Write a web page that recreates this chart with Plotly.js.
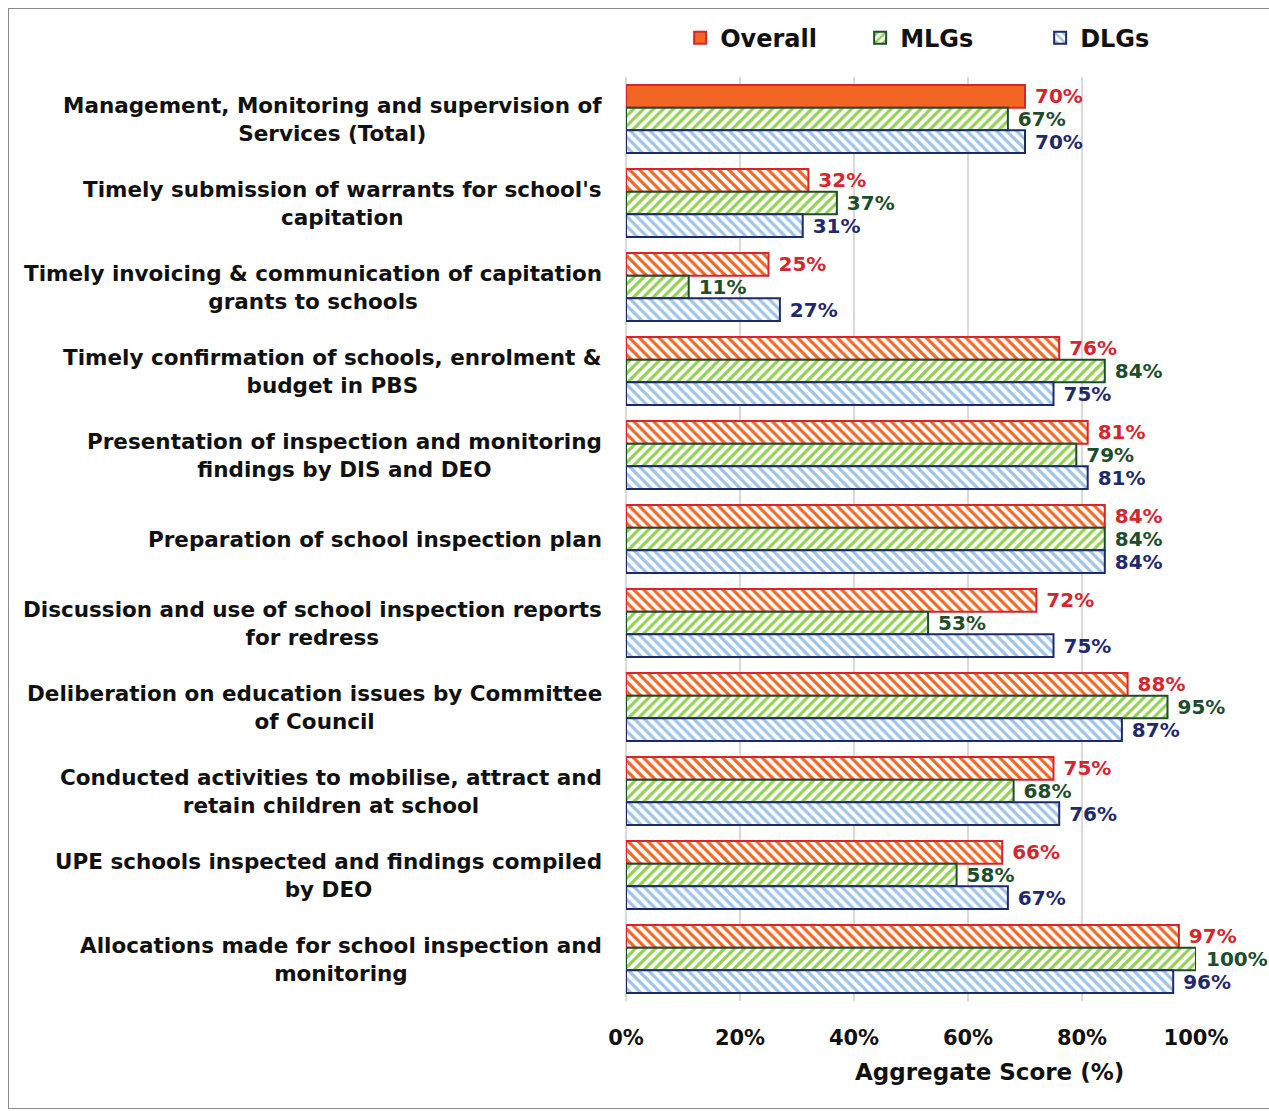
<!DOCTYPE html>
<html>
<head>
<meta charset="utf-8">
<script src="https://cdn.plot.ly/plotly-3.0.1.min.js"></script>
<style>
  html, body { margin: 0; padding: 0; background: #fff; overflow: hidden; }
  #chart { width: 1269px; height: 1111px; }
  #frame { position: absolute; left: 8px; top: 8px; width: 1300px; height: 1099px; border: 1.5px solid #8c8c8c; pointer-events: none; }
</style>
</head>
<body>
<div id="chart"></div>
<div id="frame"></div>
<script>
const categories = [
  "Management, Monitoring and supervision of<br>Services (Total)",
  "Timely submission of warrants for school's<br>capitation",
  "Timely invoicing & communication of capitation<br>grants to schools",
  "Timely confirmation of schools, enrolment &<br>budget in PBS",
  "Presentation of inspection and monitoring<br>findings by DIS and DEO",
  "Preparation of school inspection plan",
  "Discussion and use of school inspection reports<br>for redress",
  "Deliberation on education issues by Committee<br>of Council",
  "Conducted activities to mobilise, attract and<br>retain children at school",
  "UPE schools inspected and findings compiled<br>by DEO",
  "Allocations made for school inspection and<br>monitoring"
];
const overall = [70, 32, 25, 76, 81, 84, 72, 88, 75, 66, 97];
const mlgs    = [67, 37, 11, 84, 79, 84, 53, 95, 68, 58, 100];
const dlgs    = [70, 31, 27, 75, 81, 84, 75, 87, 76, 67, 96];
const seriesNames = ["Overall", "MLGs", "DLGs"];
const tickVals = [0, 20, 40, 60, 80, 100];
const tickText = ["0%", "20%", "40%", "60%", "80%", "100%"];
const xTitle = "Aggregate Score (%)";

const FONT = "DejaVu Sans, Liberation Sans, sans-serif";

function mkTrace(name, vals, fg, line, txt, shapes) {
  return {
    type: "bar", orientation: "h", name: name,
    x: vals, y: categories,
    text: vals.map(v => "\u00a0" + v + "%"),
    texttemplate: "%{text}",
    textposition: "outside",
    constraintext: "none",
    cliponaxis: false,
    textfont: { family: FONT, size: 20, color: txt, weight: "bold" },
    marker: {
      color: fg,
      line: { color: line, width: 2 },
      pattern: { shape: shapes, fgcolor: fg, bgcolor: "#ffffff", size: 7, solidity: 0.45, fillmode: "replace" }
    },
    hoverinfo: "x+y"
  };
}

const overallShapes = overall.map((v, i) => i === 0 ? "" : "\\");
const traces = [
  mkTrace(seriesNames[0], overall, "#F26522", "#D3262E", "#D3262E", overallShapes),
  mkTrace(seriesNames[1], mlgs, "#92D050", "#1E4D2B", "#1E4D2B", "/"),
  mkTrace(seriesNames[2], dlgs, "#9DC3E6", "#1F2A6B", "#1F2A6B", "\\")
];

const annotations = categories.map(c => ({
  xref: "paper", yref: "y", x: 0, y: c, xanchor: "right", yanchor: "middle",
  xshift: -22, align: "center", showarrow: false, text: c,
  font: { family: FONT, size: 21.5, color: "#111", weight: "bold" }
}));
annotations.push({
  xref: "paper", yref: "paper", x: 0.637, y: 0, yshift: -71, xanchor: "center", yanchor: "middle",
  showarrow: false, text: xTitle,
  font: { family: FONT, size: 23, color: "#111", weight: "bold" }
});

const layout = {
  width: 1269, height: 1111,
  margin: { l: 626, r: 73, t: 77, b: 110 },
  paper_bgcolor: "#ffffff", plot_bgcolor: "#ffffff",
  barmode: "group", bargap: 0.19, bargroupgap: 0,
  showlegend: true,
  legend: {
    orientation: "h", x: 0.095, xanchor: "left", y: 1.042, yanchor: "middle",
    entrywidth: 135, entrywidthmode: "pixels", traceorder: "normal",
    font: { family: FONT, size: 24, color: "#111", weight: "bold" },
    itemwidth: 30
  },
  xaxis: {
    range: [0, 100], tickvals: tickVals, ticktext: tickText,
    showgrid: true, gridcolor: "#d9d9d9", gridwidth: 2,
    zeroline: true, zerolinecolor: "#d9d9d9", zerolinewidth: 2,
    showline: false, ticks: "", ticklabelstandoff: 22,
    tickfont: { family: FONT, size: 21, color: "#111", weight: "bold" }
  },
  yaxis: {
    type: "category", autorange: "reversed", showticklabels: false,
    showgrid: false, zeroline: false, showline: false, ticks: ""
  },
  annotations: annotations
};

Plotly.newPlot("chart", traces, layout, { displayModeBar: false, staticPlot: true });
</script>
</body>
</html>
